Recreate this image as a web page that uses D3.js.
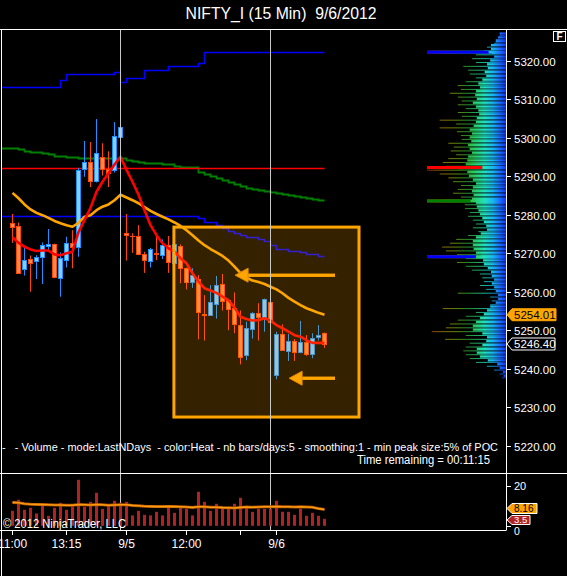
<!DOCTYPE html>
<html><head><meta charset="utf-8">
<script src="https://cdn.jsdelivr.net/npm/d3@7"></script>
<style>
body{margin:0;background:#000;overflow:hidden}
svg{display:block}
text{font-family:"Liberation Sans",Arial,sans-serif;white-space:pre}
</style></head>
<body><svg id="c" width="567" height="576"></svg>
<script>
// ---------- DATA ----------
const times = [
 "09/04 11:00","09/04 11:15","09/04 11:30","09/04 11:45","09/04 12:00","09/04 12:15","09/04 12:30","09/04 12:45",
 "09/04 13:00","09/04 13:15","09/04 13:30","09/04 13:45","09/04 14:00","09/04 14:15","09/04 14:30","09/04 14:45",
 "09/04 15:00","09/04 15:15","09/04 15:30",
 "09/05 09:30","09/05 09:45","09/05 10:00","09/05 10:15","09/05 10:30","09/05 10:45","09/05 11:00","09/05 11:15",
 "09/05 11:30","09/05 11:45","09/05 12:00","09/05 12:15","09/05 12:30","09/05 12:45","09/05 13:00","09/05 13:15",
 "09/05 13:30","09/05 13:45","09/05 14:00","09/05 14:15","09/05 14:30","09/05 14:45","09/05 15:00","09/05 15:15",
 "09/05 15:30",
 "09/06 09:30","09/06 09:45","09/06 10:00","09/06 10:15","09/06 10:30","09/06 10:45","09/06 11:00","09/06 11:15",
 "09/06 11:30"];
const open  = [5277.8,5277.0,5265.8,5268.4,5268.1,5268.9,5271.9,5272.3,5263.5,5268.2,5272.7,5271.7,5291.8,5293.7,5288.9,5295.1,5292.0,5291.6,5300.2,
 5275.2,5274.6,5274.4,5269.7,5268.1,5270.1,5269.5,5272.1,5267.5,5272.0,5266.1,5262.6,5263.2,5254.2,5254.0,5256.7,5261.9,5257.8,5255.7,5251.3,5243.5,5250.2,5254.4,5253.0,5257.2,
 5238.3,5248.9,5244.5,5247.3,5244.2,5246.8,5243.7,5248.1,5249.2];
const high  = [5280.2,5278.0,5272.1,5269.4,5269.5,5272.8,5276.3,5272.5,5270.2,5274.3,5276.0,5292.2,5299.2,5298.9,5304.9,5298.6,5296.5,5304.1,5304.4,
 5280.2,5275.2,5277.3,5270.4,5271.4,5275.2,5273.6,5274.5,5272.5,5272.3,5266.3,5266.1,5264.3,5259.1,5261.7,5264.1,5264.6,5258.0,5259.8,5255.1,5252.2,5254.7,5257.0,5258.2,5257.8,
 5249.6,5251.5,5249.0,5247.7,5252.4,5248.7,5249.2,5251.3,5249.4];
const low   = [5272.7,5264.7,5264.2,5260.0,5263.3,5262.0,5270.6,5263.5,5258.7,5266.3,5266.1,5269.1,5289.9,5287.2,5288.4,5290.2,5287.2,5291.0,5298.7,
 5268.1,5270.1,5269.5,5264.9,5266.3,5268.2,5268.5,5264.9,5267.2,5262.2,5260.6,5261.0,5247.6,5247.3,5253.7,5253.0,5255.1,5250.0,5249.2,5241.1,5242.2,5247.8,5247.3,5249.6,5249.4,
 5237.2,5244.6,5242.0,5242.0,5244.0,5243.3,5242.7,5247.3,5245.4];
const close = [5276.9,5264.9,5268.2,5267.5,5268.9,5272.1,5272.4,5263.9,5268.7,5272.6,5271.7,5291.7,5293.7,5288.7,5296.0,5292.0,5291.0,5300.4,5302.8,
 5274.7,5274.4,5269.8,5268.2,5271.0,5269.7,5272.1,5267.8,5272.3,5266.1,5262.4,5264.3,5254.6,5254.0,5257.3,5261.7,5257.7,5255.4,5251.5,5242.9,5250.5,5254.4,5253.3,5258.0,5252.0,
 5248.9,5244.8,5247.3,5244.2,5246.8,5243.7,5247.9,5248.7,5246.4];
// fast (red) and slow (orange) moving averages
const maFast = [5274.2,5272.7,5271.7,5271.0,5270.6,5270.7,5270.7,5269.7,5269.5,5270.0,5270.4,5275.5,5278.6,5281.8,5286.0,5288.6,5290.8,5293.1,5295.1,
 5291.7,5288.6,5285.2,5281.2,5277.3,5274.7,5272.6,5271.3,5270.4,5268.7,5267.4,5264.8,5262.6,5260.9,5260.3,5259.7,5258.7,5257.8,5255.9,5253.5,5252.9,5252.5,5252.6,5253.1,5252.5,
 5251.3,5250.5,5249.6,5248.7,5248.3,5247.4,5246.7,5246.7,5246.7];
const maSlow = [5285.7,5284.3,5282.7,5281.4,5280.5,5279.9,5279.2,5278.4,5277.8,5277.3,5276.9,5277.9,5279.5,5279.9,5281.2,5282.1,5282.7,5283.8,5285.2,
 5284.5,5283.8,5283.0,5282.0,5281.0,5280.2,5279.5,5278.8,5278.0,5277.1,5276.0,5274.7,5273.3,5272.1,5271.1,5270.2,5269.3,5268.1,5266.5,5264.8,5263.7,5262.9,5262.5,5262.0,5261.3,
 5260.6,5259.6,5258.4,5257.4,5256.5,5255.7,5255.1,5254.5,5254.01];
const upperLevel = [5313.2,5313.2,5313.2,5313.2,5313.2,5313.2,5313.2,5313.2,5315.1,5316.6,5316.6,5316.6,5316.6,5316.6,5316.6,5316.6,5316.6,5317.1,5314.5,
 5315.6,5315.6,5315.6,5317.7,5317.7,5317.7,5317.7,5318.7,5318.7,5318.7,5318.7,5318.7,5319.5,5322.3,5322.3,5322.3,5322.3,5322.3,5322.3,5322.3,5322.3,5322.3,5322.3,5322.3,5322.3,
 5322.3,5322.3,5322.3,5322.3,5322.3,5322.3,5322.3,5322.3,5322.3];
const lowerLevel = [5279.7,5279.7,5279.7,5279.7,5279.7,5279.7,5279.7,5279.7,5279.7,5279.7,5279.7,5279.7,5279.7,5279.7,5279.7,5279.7,5279.7,5279.7,5279.7,
 5279.7,5279.7,5279.7,5279.7,5279.7,5279.7,5279.7,5279.7,5279.7,5279.7,5279.7,5279.7,5279.2,5278.0,5278.0,5277.3,5276.5,5275.8,5275.2,5274.7,5274.3,5274.3,5273.7,5273.2,5272.1,
 5271.0,5271.0,5270.6,5270.6,5270.2,5269.8,5269.8,5269.3,5269.3];
const greenLevel = [5297.3,5297.0,5296.7,5296.3,5296.3,5296.0,5295.7,5295.3,5295.3,5295.0,5295.0,5294.7,5294.7,5294.7,5294.7,5294.7,5294.7,5294.7,5294.7,
 5294.3,5294.0,5293.7,5293.4,5293.4,5293.4,5293.1,5293.1,5292.8,5292.5,5292.5,5292.5,5291.1,5290.6,5290.1,5289.6,5289.0,5288.5,5288.0,5287.5,5287.0,5286.7,5286.5,5286.2,5285.9,
 5285.7,5285.4,5285.2,5284.9,5284.6,5284.4,5284.2,5283.8,5283.8];
const pocLevel = 5292.3;
const volume = [7.5,13.0,8.0,9.0,6.2,10.2,5.0,9.0,11.5,8.0,9.5,23.0,9.5,12.0,16.5,8.5,10.0,12.5,11.5,
 12.0,5.2,7.5,5.5,5.2,7.0,5.2,9.5,6.5,9.0,8.5,5.2,17.0,12.0,7.5,11.0,8.5,8.5,11.0,14.0,10.0,7.0,8.5,8.5,8.5,
 12.5,7.0,7.0,5.5,8.5,5.0,6.5,5.0,3.5];
const volumeAvg = [11.7,11.5,11.0,10.8,10.7,10.6,10.5,10.4,10.4,10.3,10.3,10.6,10.5,10.4,10.6,10.5,10.3,10.4,10.5,
 10.5,10.2,10.0,9.8,9.7,9.6,9.6,9.7,9.6,9.5,9.4,9.2,9.5,9.5,9.3,9.3,9.1,9.0,8.9,9.2,9.4,9.3,9.4,9.5,9.5,
 9.6,9.5,9.5,9.4,9.5,9.4,9.3,8.6,8.16];
const priceTicks = [5220,5230,5240,5250,5260,5270,5280,5290,5300,5310,5320];
const volTicks = [0,20];
const xTickTimes  = ["09/04 11:00","09/04 13:15","09/05 09:30","09/05 12:00","09/05 14:15","09/06 09:30"];
const xTickLabels = ["11:00","13:15","9/5","12:00","","9/6"];
const sessionEnds = ["09/04 15:30","09/05 15:30"];
// volume profile (percent of POC), one row per price point
const profilePrice = [5327,5326,5325,5324,5323,5322,5321,5320,5319,5318,5317,5316,5315,5314,5313,5312,5311,5310,5309,5308,
 5307,5306,5305,5304,5303,5302,5301,5300,5299,5298,5297,5296,5295,5294,5293,5292,5291,5290,5289,5288,5287,5286,5285,5284,5283,
 5282,5281,5280,5279,5278,5277,5276,5275,5274,5273,5272,5271,5270,5269,5268,5267,5266,5265,5264,5263,5262,5261,5260,5259,5258,
 5257,5256,5255,5254,5253,5252,5251,5250,5249,5248,5247,5246,5245,5244,5243,5242,5241,5240,5239,5238];
const profileCore = [8,10,13,19,19,18,15,20,24,23,27,25,30,35,33,38,39,37,42,38,
 35,34,37,38,41,46,43,46,44,48,46,43,48,49,51,60,49,47,42,38,42,43,41,43,38,
 37,35,33,30,28,25,24,32,38,42,42,41,38,32,29,28,23,19,18,15,18,15,13,10,10,
 13,20,24,28,33,38,42,42,30,24,25,30,37,37,33,23,11,8,4,3];
const profilePeak = [8,13,15,24,28,38,43,38,54,48,46,38,51,61,57,71,61,56,61,51,
 61,56,84,63,84,62,57,56,73,66,70,63,73,80,76,100,84,73,67,57,61,67,57,63,52,
 52,46,48,42,38,42,35,48,63,71,81,76,62,51,62,51,43,33,30,28,33,25,61,20,18,
 20,80,38,51,61,71,76,94,51,77,46,51,54,51,46,38,24,15,8,5];
const profileLevels = [5322.3,5292.3,5283.6,5269.1];
const profileLevelShare = [78,70,55,62];
const lastPrice = 5246.40, lastSlow = 5254.01, lastVol = 3.5, lastVolAvg = 8.16;
const annoRect = {i0:26.9, i1:57.75, p0:5276.8, p1:5227.4};
const arrows = [{tip:37.1, tail:53.75, p:5264.3},{tip:46.1, tail:53.75, p:5237.5}];

// ---------- STYLES ----------
const upFill="#87cefa", upStroke="#1e90ff", dnFill="#ff8a55", dnStroke="#ff4500";
const levelColors=["#0000ff","#ff0000","#008000","#0000ff"];

// ---------- SCALES ----------
const svg = d3.select("#c");
const x  = d3.scalePoint().domain(times).range([12.5, 324.5]);
const xi = d3.scaleLinear().domain([0, times.length-1]).range([12.5, 324.5]);
const y  = d3.scaleLinear().domain([5220,5320]).range([445.5, 61]);
const yv = d3.scaleLinear().domain([0,20]).range([525.8, 485.8]);
const xp = d3.scaleLinear().domain([0,100]).range([506, 427]);

svg.append("rect").attr("width",567).attr("height",576).attr("fill","#000");
const defs = svg.append("defs");
defs.append("clipPath").attr("id","mainClip").append("rect").attr("x",1).attr("y",29.5).attr("width",505).attr("height",443);
defs.append("clipPath").attr("id","volClip").append("rect").attr("x",1).attr("y",473.5).attr("width",505).attr("height",56.5);
const heat = defs.append("linearGradient").attr("id","heat").attr("gradientUnits","userSpaceOnUse")
  .attr("x1",506).attr("x2",427).attr("y1",0).attr("y2",0);
[[0,"#1030ff"],[0.08,"#1a70ff"],[0.17,"#18b8f0"],[0.27,"#20e0c0"],[0.38,"#28d070"],[0.5,"#30b030"],[0.63,"#78a810"],[0.78,"#a08808"],[0.9,"#b06010"],[1,"#a03010"]]
  .forEach(s=>heat.append("stop").attr("offset",s[0]).attr("stop-color",s[1]));

// title
svg.append("text").attr("x",281).attr("y",19).attr("text-anchor","middle").attr("fill","#fff")
  .attr("font-size",16).attr("textLength",191).attr("lengthAdjust","spacingAndGlyphs").text("NIFTY_I (15 Min)  9/6/2012");

const main = svg.append("g").attr("clip-path","url(#mainClip)");

// volume profile
const prof = main.append("g");
profilePrice.forEach((p,k)=>{
  const yc = y(p);
  prof.append("rect").attr("x",xp(profileCore[k])).attr("y",yc-1.7).attr("width",506-xp(profileCore[k])).attr("height",2.3)
    .attr("fill","url(#heat)");
  prof.append("rect").attr("x",xp(profilePeak[k])).attr("y",yc+1.0).attr("width",506-xp(profilePeak[k])).attr("height",1)
    .attr("fill","url(#heat)").attr("opacity",0.8);
});
profileLevels.forEach((p,k)=>{
  const yc = y(p);
  prof.append("rect").attr("x",xp(100)).attr("y",yc-1.5).attr("width",506-xp(100)).attr("height",3).attr("fill","url(#heat)");
  prof.append("rect").attr("x",xp(100)).attr("y",yc-1.5).attr("width",(506-xp(100))*profileLevelShare[k]/100).attr("height",3).attr("fill",levelColors[k]);
});

// session lines
sessionEnds.forEach(t=>{
  svg.append("line").attr("x1",x(t)).attr("x2",x(t)).attr("y1",29.5).attr("y2",530).attr("stroke","#c8c8c8").attr("stroke-width",1);
});

// step levels
function stepLine(vals,color,w){
  const pts=[[0,vals[0]]].concat(vals.map((v,i)=>[xi(i),v]));
  main.append("path").attr("d",d3.line().x(d=>d[0]).y(d=>Math.round(y(d[1]))+0.5).curve(d3.curveStepAfter)(pts))
    .attr("fill","none").attr("stroke",color).attr("stroke-width",w);
}
stepLine(upperLevel,"#0000ff",1.6);
stepLine(lowerLevel,"#0000ff",1.6);
stepLine(greenLevel,"#008000",1.8);
main.append("line").attr("x1",0).attr("x2",xi(times.length-1)).attr("y1",Math.round(y(pocLevel))+0.5).attr("y2",Math.round(y(pocLevel))+0.5)
  .attr("stroke","#ff0000").attr("stroke-width",1.5);

// candles
const cg = main.append("g");
times.forEach((t,i)=>{
  const up = close[i] >= open[i];
  const cx = x(t);
  cg.append("line").attr("x1",cx).attr("x2",cx).attr("y1",y(high[i])).attr("y2",y(low[i]))
    .attr("stroke", up?upStroke:dnStroke).attr("stroke-width",1);
  const top = Math.round(y(Math.max(open[i],close[i])))+0.5;
  const bot = Math.round(y(Math.min(open[i],close[i])))+0.5;
  if (bot - top < 1) {
    cg.append("line").attr("x1",cx-2.5).attr("x2",cx+2.5).attr("y1",top).attr("y2",top).attr("stroke",up?upStroke:dnStroke);
  } else {
    cg.append("rect").attr("x",cx-2).attr("y",top).attr("width",4).attr("height",bot-top)
      .attr("fill",up?upFill:dnFill).attr("stroke",up?upStroke:dnStroke).attr("stroke-width",1);
  }
});

// moving averages
const maLine = d3.line().x((d,i)=>xi(i)).y(d=>y(d));
main.append("path").attr("d",maLine(maSlow)).attr("fill","none").attr("stroke","#ffa500").attr("stroke-width",2.6).attr("stroke-linejoin","round");
main.append("path").attr("d",maLine(maFast)).attr("fill","none").attr("stroke","#ff0000").attr("stroke-width",2.6).attr("stroke-linejoin","round");

// annotation rectangle + arrows
main.append("rect").attr("x",xi(annoRect.i0)).attr("y",y(annoRect.p0)).attr("width",xi(annoRect.i1)-xi(annoRect.i0))
  .attr("height",y(annoRect.p1)-y(annoRect.p0)).attr("fill","rgba(255,165,0,0.2)").attr("stroke","#ffa500").attr("stroke-width",3);
arrows.forEach(a=>{
  const tx=xi(a.tip), ex=xi(a.tail), yy=y(a.p);
  main.append("line").attr("x1",tx+12).attr("x2",ex).attr("y1",yy).attr("y2",yy).attr("stroke","#e89400").attr("stroke-width",3.5);
  main.append("line").attr("x1",tx+12).attr("x2",ex).attr("y1",yy).attr("y2",yy).attr("stroke","#ffa500").attr("stroke-width",2.5);
  main.append("path").attr("d",`M${tx},${yy}L${tx+13},${yy-7}L${tx+13},${yy+7}Z`).attr("fill","#ffa500").attr("stroke","#e08a00").attr("stroke-width",1);
});

// legend text
svg.append("text").attr("x",2).attr("y",451).attr("fill","#fff").attr("font-size",11)
  .attr("textLength",496).attr("lengthAdjust","spacingAndGlyphs")
  .text("-   - Volume - mode:LastNDays  - color:Heat - nb bars/days:5 - smoothing:1 - min peak size:5% of POC");
svg.append("text").attr("x",490).attr("y",464).attr("text-anchor","end").attr("fill","#fff").attr("font-size",12)
  .attr("textLength",133).attr("lengthAdjust","spacingAndGlyphs").text("Time remaining = 00:11:15");

// frame
svg.append("line").attr("x1",0).attr("x2",567).attr("y1",29.5).attr("y2",29.5).attr("stroke","#fff");
svg.append("line").attr("x1",0).attr("x2",567).attr("y1",473.5).attr("y2",473.5).attr("stroke","#fff");
svg.append("line").attr("x1",0).attr("x2",506).attr("y1",530.5).attr("y2",530.5).attr("stroke","#fff");
svg.append("line").attr("x1",1.5).attr("x2",1.5).attr("y1",29.5).attr("y2",576).attr("stroke","#fff");
svg.append("line").attr("x1",506.5).attr("x2",506.5).attr("y1",29.5).attr("y2",530.5).attr("stroke","#fff");

// price axis
const ya = svg.append("g");
priceTicks.forEach(p=>{
  const yy = Math.round(y(p))+0.5;
  ya.append("line").attr("x1",506).attr("x2",511).attr("y1",yy).attr("y2",yy).attr("stroke","#fff");
  ya.append("text").attr("x",514).attr("y",yy).attr("dy","0.36em").attr("fill","#fff").attr("font-size",11.5).text(d3.format(".2f")(p));
});
// F box
svg.append("rect").attr("x",553.5).attr("y",31.5).attr("width",12).attr("height",10).attr("fill","#000").attr("stroke","#fff");
svg.append("text").attr("x",559.5).attr("y",40).attr("text-anchor","middle").attr("fill","#fff").attr("font-size",10).attr("font-weight","bold").text("F");

function marker(yc,label,fill,stroke,txt,w,h,fs){
  svg.append("path").attr("d",`M507,${yc}L512,${yc-h/2}L${512+w},${yc-h/2}L${512+w},${yc+h/2}L512,${yc+h/2}Z`)
    .attr("fill",fill).attr("stroke",stroke).attr("stroke-width",1);
  svg.append("text").attr("x",514).attr("y",yc).attr("dy","0.35em").attr("fill",txt).attr("font-size",fs).text(label);
}
marker(y(lastSlow), d3.format(".2f")(lastSlow), "#ffa500", "#ffa500", "#000", 44, 12, 11.5);
marker(y(lastPrice), d3.format(".2f")(lastPrice), "#000", "#fff", "#fff", 43, 12, 11.5);

// volume panel
const vg = svg.append("g").attr("clip-path","url(#volClip)");
times.forEach((t,i)=>{
  vg.append("rect").attr("x",x(t)-1.5).attr("y",yv(volume[i])).attr("width",3).attr("height",yv(0)-yv(volume[i])).attr("fill","#b22222");
});
const vl = d3.line().x((d,i)=>xi(i)).y(d=>yv(d));
vg.append("path").attr("d",vl(volumeAvg)).attr("fill","none").attr("stroke","#a85000").attr("stroke-width",3);
vg.append("path").attr("d",vl(volumeAvg)).attr("fill","none").attr("stroke","#ff9a10").attr("stroke-width",1.6);
svg.append("text").attr("x",3).attr("y",528).attr("fill","#fff").attr("font-size",12.5)
  .attr("textLength",123).attr("lengthAdjust","spacingAndGlyphs").text("\u00a9 2012 NinjaTrader, LLC");
volTicks.forEach(v=>{
  const yy=Math.round(yv(v))+0.5;
  svg.append("line").attr("x1",506).attr("x2",511).attr("y1",yy).attr("y2",yy).attr("stroke","#fff");
  svg.append("text").attr("x",514).attr("y",yy+(v===0?4.5:0)).attr("dy","0.36em").attr("fill","#fff").attr("font-size",v===0?10.5:11).text(v);
});
// last-value markers, pushed apart so they do not collide (as the platform does)
const mAvgY = yv(lastVolAvg) - 1, mVolY = Math.max(yv(lastVol), mAvgY + 11.5);
marker(mAvgY, String(lastVolAvg), "#ffa500", "#fff", "#000", 25, 10, 10);
marker(mVolY, String(lastVol), "#b22222", "#fff", "#fff", 18, 9, 9.5);

// x axis
xTickTimes.forEach((t,k)=>{
  const xx = x(t);
  svg.append("line").attr("x1",xx).attr("x2",xx).attr("y1",530.5).attr("y2",535).attr("stroke","#fff");
  svg.append("text").attr("x",xx).attr("y",548).attr("text-anchor","middle").attr("fill","#fff").attr("font-size",12).text(xTickLabels[k]);
});
</script></body></html>
